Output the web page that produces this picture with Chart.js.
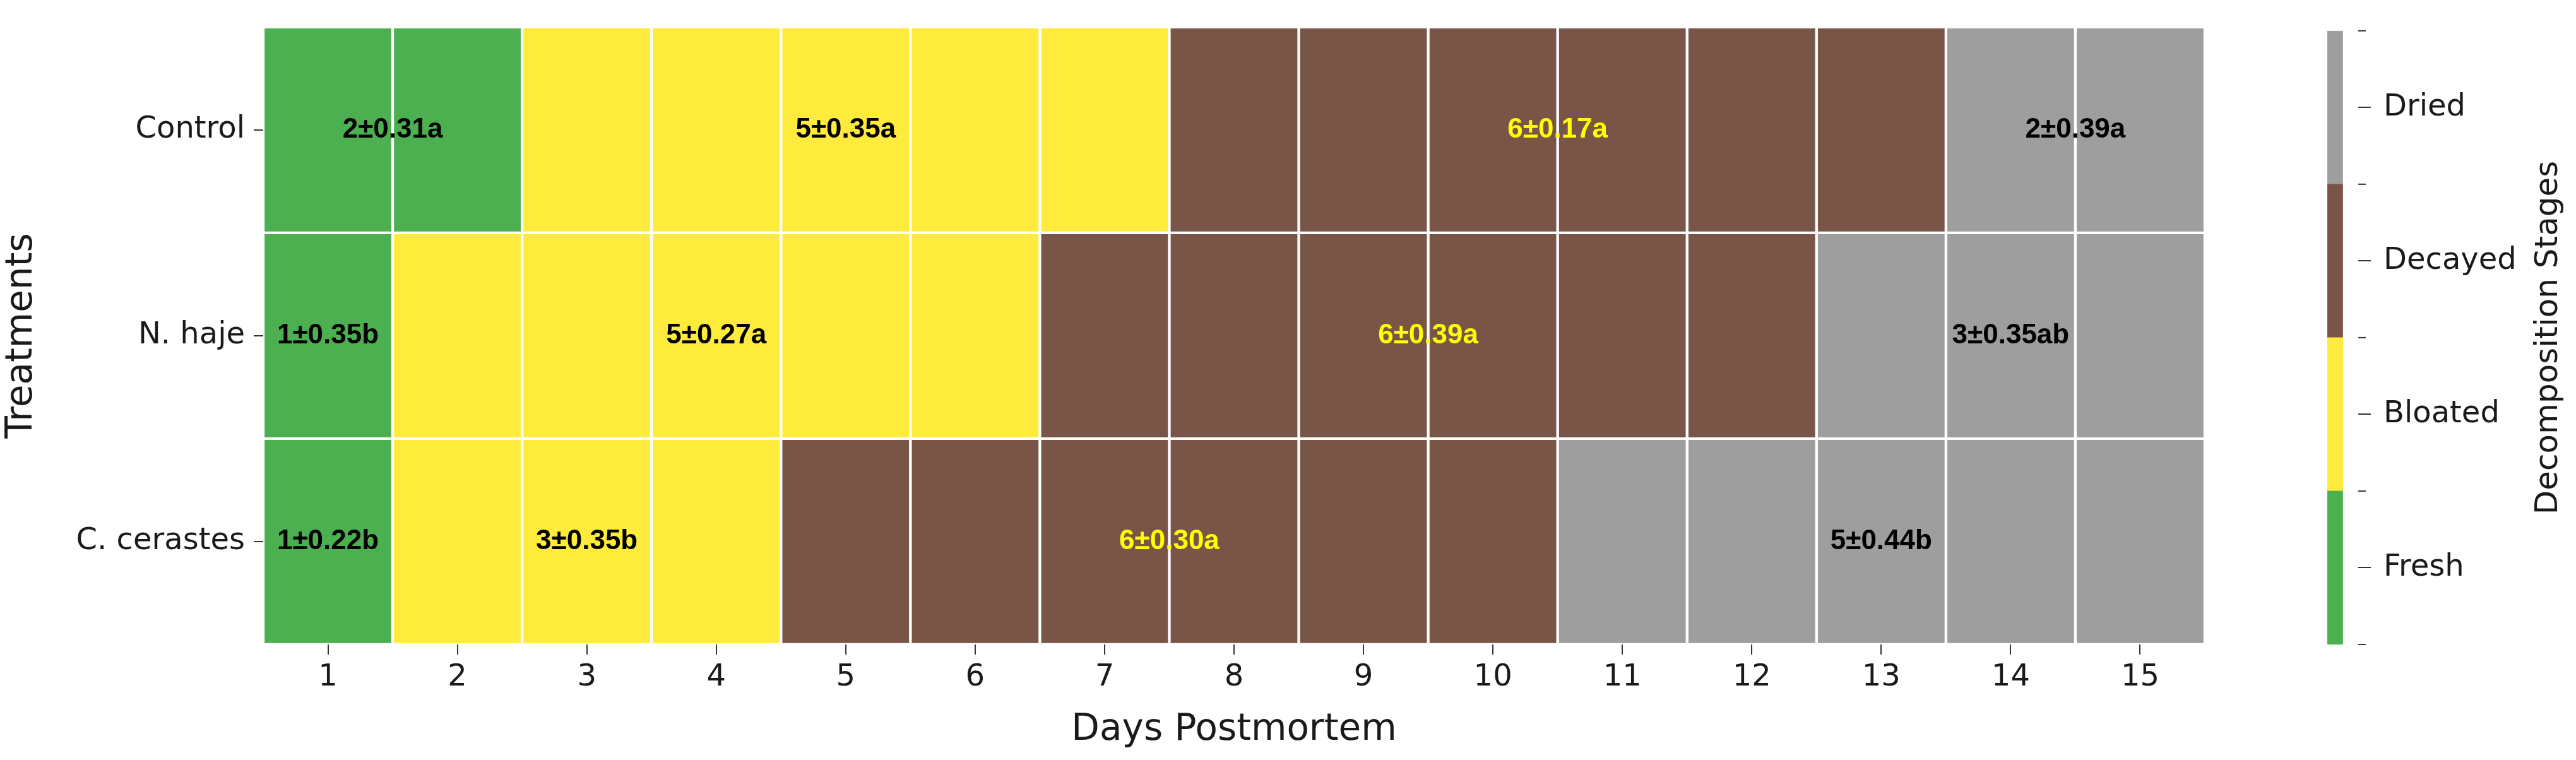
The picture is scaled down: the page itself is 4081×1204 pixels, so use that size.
<!DOCTYPE html>
<html><head><meta charset="utf-8">
<script src="https://cdn.jsdelivr.net/npm/chart.js@4.4.1/dist/chart.umd.min.js"></script>
<style>
html,body{margin:0;padding:0;background:#fff;}
#wrap{position:relative;width:4081px;height:1204px;background:#fff;}
.box{position:absolute;top:0;height:1204px;}
</style></head><body>
<div id="wrap">
  <div class="box" style="left:0;width:3560px;"><canvas id="main" width="3560" height="1204"></canvas></div>
  <div class="box" style="left:3560px;width:521px;"><canvas id="cbar" width="521" height="1204"></canvas></div>
</div>
<script>
// ---- data ----
const days = ['1','2','3','4','5','6','7','8','9','10','11','12','13','14','15'];
const treatments = ['Control', 'N. haje', 'C. cerastes'];
const stageNames = ['Fresh', 'Bloated', 'Decayed', 'Dried'];
const stageColors = ['#4CAF50', '#FFEB3B', '#795548', '#9E9E9E'];
// stage index per day (0 Fresh, 1 Bloated, 2 Decayed, 3 Dried)
const controlStages   = [0,0,1,1,1,1,1,2,2,2,2,2,2,3,3];
const nHajeStages     = [0,1,1,1,1,1,2,2,2,2,2,2,3,3,3];
const cCerastesStages = [0,1,1,1,2,2,2,2,2,2,3,3,3,3,3];
// mean ± SE durations per stage run
const controlLabels   = ['2±0.31a', '5±0.35a', '6±0.17a', '2±0.39a'];
const nHajeLabels     = ['1±0.35b', '5±0.27a', '6±0.39a', '3±0.35ab'];
const cCerastesLabels = ['1±0.22b', '3±0.35b', '6±0.30a', '5±0.44b'];

const rowStages = [controlStages, nHajeStages, cCerastesStages];
const rowLabels = [controlLabels, nHajeLabels, cCerastesLabels];

const TXT = '#1a1a1a';
const FONT = "'DejaVu Sans', sans-serif";

const datasets = rowStages.map((st, r) => ({
  label: treatments[r],
  data: days.map(() => [r, r + 1]),
  backgroundColor: st.map(s => stageColors[s]),
  borderColor: '#ffffff',
  borderWidth: 2.5,
  borderSkipped: false,
  barPercentage: 1,
  categoryPercentage: 1
}));

const annotPlugin = {
  id: 'annot',
  afterDatasetsDraw(chart) {
    const ctx = chart.ctx, xs = chart.scales.x, ys = chart.scales.y;
    ctx.save();
    ctx.font = "bold 44px 'Liberation Sans', Arial, sans-serif";
    ctx.textAlign = 'center';
    ctx.textBaseline = 'middle';
    rowStages.forEach((st, r) => {
      let runs = [], start = 0;
      for (let i = 1; i <= st.length; i++) {
        if (i === st.length || st[i] !== st[start]) { runs.push([start, i - 1, st[start]]); start = i; }
      }
      runs.forEach((run, k) => {
        const x = xs.getPixelForValue((run[0] + run[1]) / 2);
        const y = ys.getPixelForValue(r + 0.5);
        ctx.fillStyle = run[2] === 2 ? '#FFFF00' : '#000000';
        ctx.fillText(rowLabels[r][k], x, y);
      });
    });
    ctx.restore();
  }
};

new Chart(document.getElementById('main'), {
  type: 'bar',
  data: { labels: days, datasets },
  options: {
    responsive: false,
    animation: false,
    devicePixelRatio: 1,
    layout: { padding: { top: 17, right: 67, left: 0, bottom: 0 } },
    plugins: { legend: { display: false }, tooltip: { enabled: false } },
    scales: {
      x: {
        type: 'category',
        stacked: true,
        offset: true,
        grid: { offset: false, drawOnChartArea: false, drawTicks: true, tickLength: 16, color: '#333', lineWidth: 2 },
        border: { display: false },
        ticks: { color: TXT, font: { family: FONT, size: 48 }, padding: 8, maxRotation: 0, autoSkip: false },
        title: { display: true, text: 'Days Postmortem', color: TXT, font: { family: FONT, size: 58 }, padding: { top: 0, bottom: 12 } },
        afterFit(scale) { scale.height = 183; }
      },
      y: {
        type: 'linear',
        min: 0, max: 3,
        reverse: true,
        stacked: false,
        afterBuildTicks(scale) { scale.ticks = [0.5, 1.5, 2.5].map(v => ({ value: v })); },
        grid: { drawOnChartArea: false, drawTicks: true, tickLength: 15, color: '#333', lineWidth: 2 },
        border: { display: false },
        ticks: { color: TXT, font: { family: FONT, size: 48 }, padding: 14, callback: (v) => treatments[Math.floor(v)] },
        title: { display: true, text: 'Treatments', color: TXT, font: { family: FONT, size: 58 }, padding: { top: 0, bottom: 0 } },
        afterFit(scale) { scale.width = 417; }
      }
    }
  },
  plugins: [annotPlugin]
});

// ---- colorbar ----
const cbarPlugin = {
  id: 'cbarExtras',
  afterDraw(chart) {
    const ctx = chart.ctx, ys = chart.scales.y, area = chart.chartArea;
    ctx.save();
    ctx.strokeStyle = '#333';
    ctx.lineWidth = 2;
    for (let v = 0; v <= stageNames.length; v++) {
      const y = ys.getPixelForValue(v);
      ctx.beginPath(); ctx.moveTo(area.right, y); ctx.lineTo(area.right + 12, y); ctx.stroke();
    }
    ctx.fillStyle = TXT;
    ctx.font = "50px " + FONT;
    ctx.textAlign = 'center';
    ctx.textBaseline = 'middle';
    ctx.translate(478, (area.top + area.bottom) / 2);
    ctx.rotate(-Math.PI / 2);
    ctx.fillText('Decomposition Stages', 0, 0);
    ctx.restore();
  }
};

new Chart(document.getElementById('cbar'), {
  type: 'bar',
  data: {
    labels: [''],
    datasets: stageNames.map((n, i) => ({
      label: n,
      data: [[i, i + 1]],
      backgroundColor: stageColors[i],
      borderWidth: 0,
      barPercentage: 1,
      categoryPercentage: 1
    }))
  },
  options: {
    responsive: false,
    animation: false,
    devicePixelRatio: 1,
    layout: { padding: { top: 17, bottom: 183, left: 127, right: 0 } },
    plugins: { legend: { display: false }, tooltip: { enabled: false } },
    scales: {
      x: { stacked: true, display: false, offset: false },
      y: {
        type: 'linear', position: 'right', min: 0, max: 4, stacked: false,
        afterBuildTicks(scale) { scale.ticks = [0.5, 1.5, 2.5, 3.5].map(v => ({ value: v })); },
        grid: { drawOnChartArea: false, drawTicks: true, tickLength: 20, color: '#333', lineWidth: 2 },
        border: { display: false },
        ticks: { color: TXT, font: { family: FONT, size: 48 }, padding: 20, callback: (v) => stageNames[Math.floor(v)] },
        afterFit(scale) { scale.width = 345; }
      }
    }
  },
  plugins: [cbarPlugin]
});
</script>
</body></html>
